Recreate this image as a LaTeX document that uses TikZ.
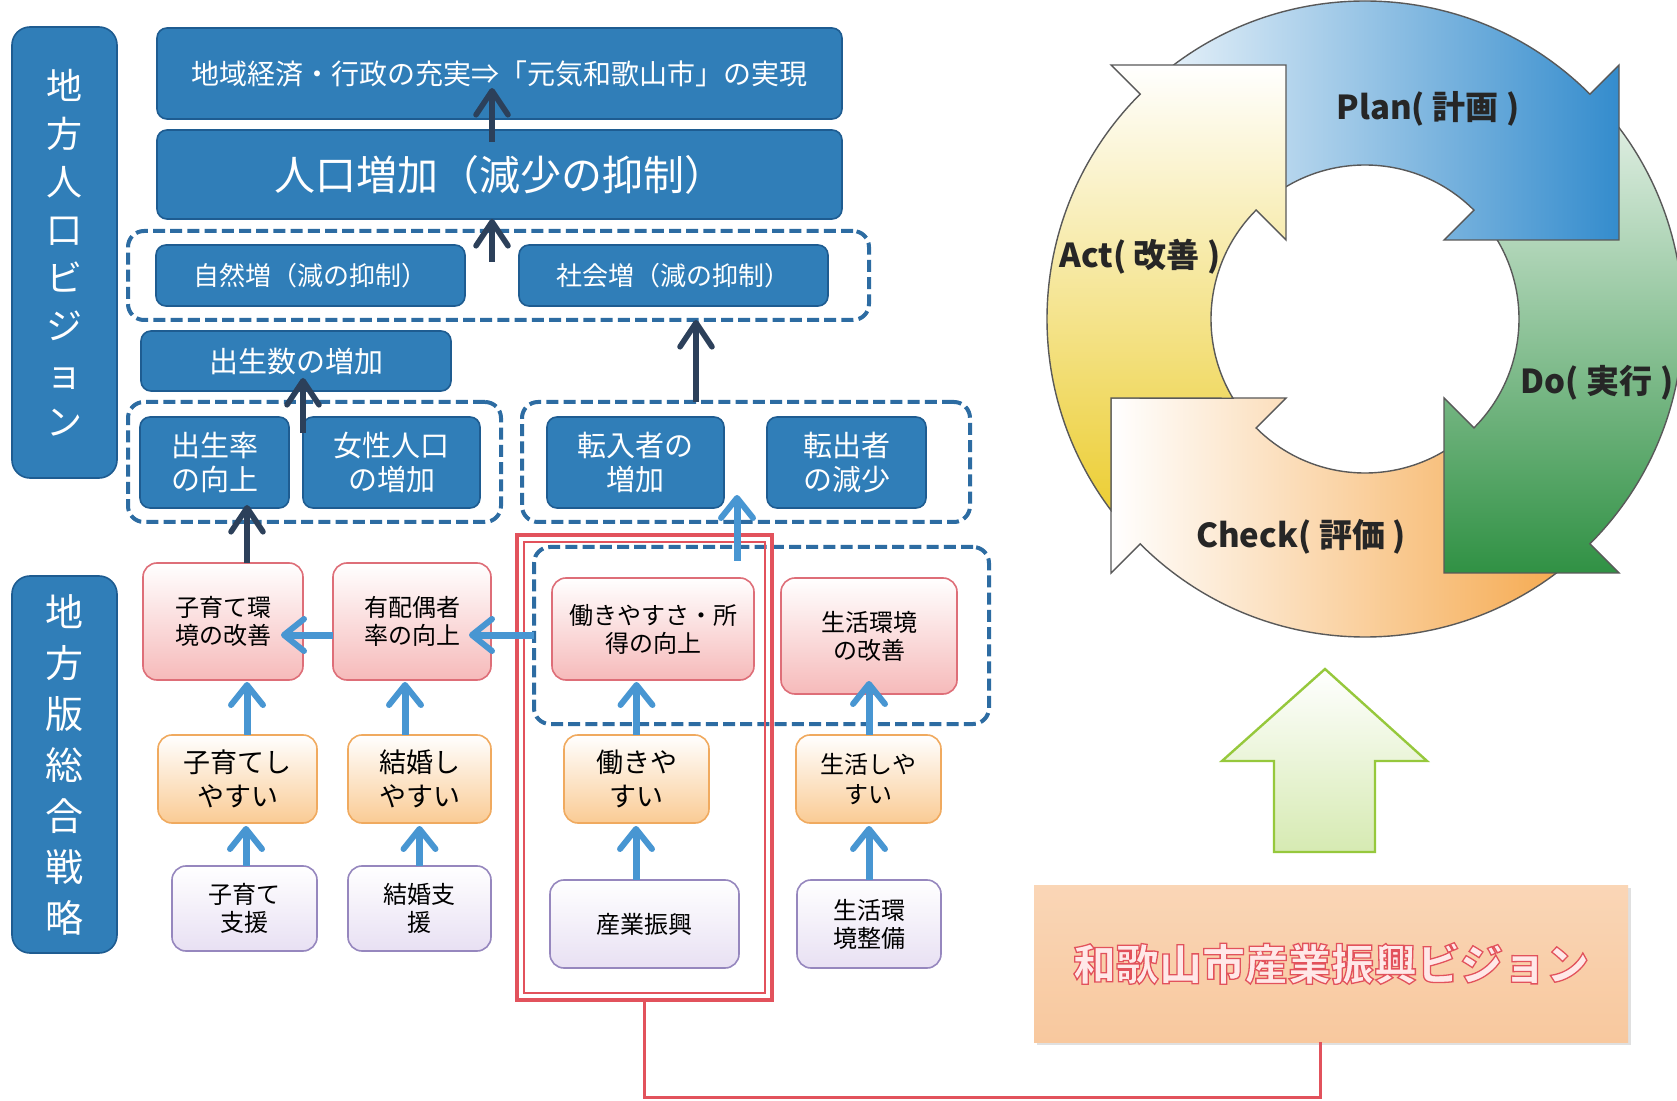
\documentclass[tikz,border=0pt]{standalone}
\usepackage{fontspec}
\setmainfont{Noto Sans CJK JP}
\usetikzlibrary{arrows.meta,calc}
\definecolor{blueF}{RGB}{48,126,184}
\definecolor{blueD}{RGB}{30,92,145}
\definecolor{dashC}{RGB}{45,108,162}
\definecolor{navyC}{RGB}{44,64,90}
\definecolor{lblue}{RGB}{72,150,210}
\definecolor{pinkD}{RGB}{222,110,120}
\definecolor{pinkF}{RGB}{246,186,186}
\definecolor{oranD}{RGB}{240,170,95}
\definecolor{oranF}{RGB}{250,203,148}
\definecolor{lavD}{RGB}{150,135,190}
\definecolor{lavF}{RGB}{232,224,243}
\definecolor{redC}{RGB}{226,82,92}
\definecolor{wakF}{RGB}{248,200,158}
\definecolor{wakT}{RGB}{255,232,232}
\definecolor{planC}{RGB}{52,140,205}
\definecolor{doC}{RGB}{48,145,68}
\definecolor{checkC}{RGB}{245,165,70}
\definecolor{actC}{RGB}{236,206,52}
\definecolor{grnD}{RGB}{150,200,60}
\definecolor{grnF}{RGB}{214,234,178}
\newcommand\outlinetext[1]{{\bfseries\addfontfeature{FakeBold=3}\color{wakT}\special{pdf:literal direct 0.886 0.322 0.361 RG}#1}}
\begin{document}
\begin{tikzpicture}[x=0.5pt,y=-0.5pt,
  bluebox/.style={draw=blueD, fill=blueF, line width=0.8pt, rounded corners=5pt, text=white, inner sep=0pt, outer sep=0pt, align=center},
  grp/.style={draw=dashC, line width=2pt, dash pattern=on 6pt off 2.6pt, rounded corners=8pt, inner sep=0pt, outer sep=0pt},
  pinkbox/.style={draw=pinkD, top color=white, bottom color=pinkF, line width=0.8pt, rounded corners=7pt, inner sep=0pt, outer sep=0pt, align=center, font=\fontsize{12pt}{14pt}\selectfont},
  oranbox/.style={draw=oranD, top color=white, bottom color=oranF, line width=0.8pt, rounded corners=7pt, inner sep=0pt, outer sep=0pt, align=center, font=\fontsize{13.5pt}{17pt}\selectfont},
  lavbox/.style={draw=lavD, top color=white, bottom color=lavF, line width=0.8pt, rounded corners=7pt, inner sep=0pt, outer sep=0pt, align=center, font=\fontsize{12pt}{14pt}\selectfont},
  darr/.style={draw=navyC, line width=2.6pt, -{Straight Barb[length=12pt, width=16pt, line width=2.8pt, round]}},
  larr/.style={draw=lblue, line width=3.5pt, -{Straight Barb[length=10pt, width=16pt, line width=3pt, round]}},
  pdca/.style={draw=black!65, line width=0.7pt},
  pdcat/.style={font=\fontsize{16.5pt}{18pt}\selectfont\bfseries, text=black!85, inner sep=0pt}
]
\useasboundingbox (0,0) rectangle (1677,1101);
\fill[white] (0,0) rectangle (1677,1101);

% ---------- PDCA cycle ----------
\begin{scope}[shift={(1365,319)}]
  % Check
  \path[pdca, left color=white, right color=checkC]
    (45:318) arc[start angle=45, end angle=135, radius=318] -- (-254,254) -- (-254,79) -- (-79,79)
    -- (135:154) arc[start angle=135, end angle=45, radius=154] -- cycle;
  % Do
  \path[pdca, top color=white!90!doC, bottom color=doC]
    (-45:318) arc[start angle=-45, end angle=45, radius=318] -- (254,254) -- (79,254) -- (79,79)
    -- (45:154) arc[start angle=45, end angle=-45, radius=154] -- cycle;
  % Plan
  \path[pdca, left color=white!92!planC, right color=planC]
    (-135:318) arc[start angle=-135, end angle=-45, radius=318] -- (254,-254) -- (254,-79) -- (79,-79)
    -- (-45:154) arc[start angle=-45, end angle=-135, radius=154] -- cycle;
  % Act
  \path[pdca, top color=white, bottom color=actC]
    (143:318) arc[start angle=143, end angle=225, radius=318] -- (-254,-254) -- (-79,-254) -- (-79,-79)
    -- (225:154) arc[start angle=225, end angle=149.04, radius=154] -- (-254,79) -- cycle;
\end{scope}
\node[pdcat] (plan) at (1428,109) {Plan( 計画 )};
\node[pdcat] (do) at (1597,383) {Do( 実行 )};
\node[pdcat] (check) at (1301,537) {Check( 評価 )};
\node[pdcat] (act) at (1140,257) {Act( 改善 )};

% ---------- green block arrow ----------
\path[draw=grnD, line width=1.2pt, top color=white, bottom color=grnF]
  (1325,669) -- (1427,761) -- (1375,761) -- (1375,852) -- (1274,852) -- (1274,761) -- (1222,761) -- cycle;

% ---------- left vertical labels ----------
\node[bluebox, rounded corners=9pt, minimum width=52.5pt, minimum height=225.5pt, font=\fontsize{18pt}{24pt}\selectfont] (vis1) at (64.5,252.5) {地\\方\\人\\口\\ビ\\ジ\\ョ\\ン};
\node[bluebox, rounded corners=9pt, minimum width=52.5pt, minimum height=188.5pt, font=\fontsize{19pt}{25.5pt}\selectfont] (vis2) at (64.5,764.5) {地\\方\\版\\総\\合\\戦\\略};

% ---------- dashed groups ----------
\node[grp, minimum width=370.5pt, minimum height=44.5pt] (g1) at (498.5,275.5) {};
\node[grp, minimum width=186.5pt, minimum height=60pt] (g2) at (314.5,462) {};
\node[grp, minimum width=224pt, minimum height=60pt] (g3) at (746,462) {};
\node[grp, minimum width=227.5pt, minimum height=88.5pt] (g4) at (761.5,635.5) {};

% ---------- blue boxes ----------
\node[bluebox, minimum width=342.5pt, minimum height=45.5pt, font=\fontsize{14pt}{17pt}\selectfont] (top) at (499.5,73.5) {地域経済・行政の充実⇒「元気和歌山市」の実現};
\node[bluebox, minimum width=342.5pt, minimum height=44.5pt, font=\fontsize{20.5pt}{24pt}\selectfont] (pop) at (499.5,174.5) {人口増加（減少の抑制）};
\node[bluebox, minimum width=154.5pt, minimum height=30.5pt, font=\fontsize{13pt}{16pt}\selectfont] (shizen) at (310.5,275.5) {自然増（減の抑制）};
\node[bluebox, minimum width=154.5pt, minimum height=30.5pt, font=\fontsize{13pt}{16pt}\selectfont] (shakai) at (673.5,275.5) {社会増（減の抑制）};
\node[bluebox, minimum width=155pt, minimum height=30pt, font=\fontsize{14.5pt}{17pt}\selectfont] (birth) at (296,361) {出生数の増加};
\node[bluebox, minimum width=74.5pt, minimum height=45.5pt, font=\fontsize{14.5pt}{17pt}\selectfont] (rate) at (214.5,462.5) {出生率\\の向上};
\node[bluebox, minimum width=88.5pt, minimum height=45.5pt, font=\fontsize{14.5pt}{17pt}\selectfont] (female) at (391.5,462.5) {女性人口\\の増加};
\node[bluebox, minimum width=88.5pt, minimum height=45.5pt, font=\fontsize{14.5pt}{17pt}\selectfont] (tennyu) at (635.5,462.5) {転入者の\\増加};
\node[bluebox, minimum width=79.5pt, minimum height=45.5pt, font=\fontsize{14.5pt}{17pt}\selectfont] (tenshu) at (846.5,462.5) {転出者\\の減少};

% ---------- strategy boxes ----------
\node[pinkbox, minimum width=80pt, minimum height=58.5pt] (kenv) at (223,621.5) {子育て環\\境の改善};
\node[pinkbox, minimum width=79pt, minimum height=58.5pt] (haigu) at (412,621.5) {有配偶者\\率の向上};
\node[pinkbox, minimum width=101pt, minimum height=51pt] (hinc) at (653,629) {働きやすさ・所\\得の向上};
\node[pinkbox, minimum width=88pt, minimum height=58pt] (senv) at (869,636) {生活環境\\の改善};
\node[oranbox, minimum width=79.5pt, minimum height=44pt] (keasy) at (237.5,779) {子育てし\\やすい};
\node[oranbox, minimum width=71.5pt, minimum height=44pt] (measy) at (419.5,779) {結婚し\\やすい};
\node[oranbox, minimum width=72.5pt, minimum height=44pt] (heasy) at (636.5,779) {働きや\\すい};
\node[oranbox, minimum width=72.5pt, minimum height=44pt, font=\fontsize{12pt}{15pt}\selectfont] (seasy) at (868.5,779) {生活しや\\すい};
\node[lavbox, minimum width=72.5pt, minimum height=42.5pt] (ksup) at (244.5,908.5) {子育て\\支援};
\node[lavbox, minimum width=71.5pt, minimum height=42.5pt] (msup) at (419.5,908.5) {結婚支\\援};
\node[lavbox, minimum width=94.5pt, minimum height=44pt] (sangyo) at (644.5,924) {産業振興};
\node[lavbox, minimum width=72pt, minimum height=44pt] (ssup) at (869,924) {生活環\\境整備};

% ---------- red frame ----------
\node[draw=redC, line width=2pt, minimum width=127.5pt, minimum height=232.5pt, inner sep=0pt, outer sep=0pt] (redbox) at (644.5,767.5) {};
\draw[redC, line width=0.7pt] ([shift={(3.5pt,-3.5pt)}]redbox.north west) rectangle ([shift={(-3.5pt,3.5pt)}]redbox.south east);

% ---------- dark arrows ----------
\draw[darr] ($(pop.north)+(-7.5,12)$) -- ($(top.south)+(-7.5,-31)$);
\draw[darr] ($(g1.north)+(-6.5,31)$) -- ($(pop.south)+(-7.5,0)$);
\draw[darr] ($(g2.north)+(-11.5,31)$) -- ($(birth.south)+(7,-13)$);
\draw[darr] ($(g3.north)+(-50,0)$) -- ($(g3.north |- g1.south)+(-50,0)$);
\draw[darr] ($(kenv.north)+(24,0)$) -- ($(kenv.north |- rate.south)+(24,-3)$);

% ---------- light arrows ----------
\draw[larr] ($(haigu.west)+(0,13.5)$) -- ($(kenv.east)+(-22,13.5)$);
\draw[larr] ($(g4.west)+(0,-0.5)$) -- ($(haigu.east)+(-22,13.5)$);
\draw[larr] ($(g4.north)+(-24.5,14)$) -- ($(g4.north |- g3.south)+(-24.5,-27)$);
\draw[larr] ($(keasy.north)+(9.5,0)$) -- ($(keasy.north |- kenv.south)+(9.5,2)$);
\draw[larr] ($(measy.north)+(-14.5,0)$) -- ($(measy.north |- haigu.south)+(-14.5,2)$);
\draw[larr] (heasy.north) -- ($(heasy.north |- hinc.south)+(0,2)$);
\draw[larr] ($(seasy.north)+(0.5,0)$) -- ($(seasy.north |- senv.south)+(0.5,-13)$);
\draw[larr] ($(ksup.north)+(1.5,0)$) -- ($(ksup.north |- keasy.south)+(1.5,3)$);
\draw[larr] (msup.north) -- ($(msup.north |- measy.south)+(0,3)$);
\draw[larr] ($(sangyo.north)+(-8.5,0)$) -- ($(sangyo.north |- heasy.south)+(-8.5,3)$);
\draw[larr] (ssup.north) -- ($(ssup.north |- seasy.south)+(0,3)$);

% ---------- industry vision box ----------
\fill[black!12] (1037,888) rectangle (1631,1045);
\node[top color=wakF!75!white, bottom color=wakF, minimum width=297pt, minimum height=78.5pt, inner sep=0pt, outer sep=0pt, font=\fontsize{21.5pt}{24pt}\selectfont] (wak) at (1331,963.5) {\outlinetext{和歌山市産業振興ビジョン}};
\coordinate (rl) at (1320,1097);
\draw[redC, line width=1.5pt] (redbox.south) |- (rl) -- (rl |- wak.south);
\end{tikzpicture}
\end{document}
